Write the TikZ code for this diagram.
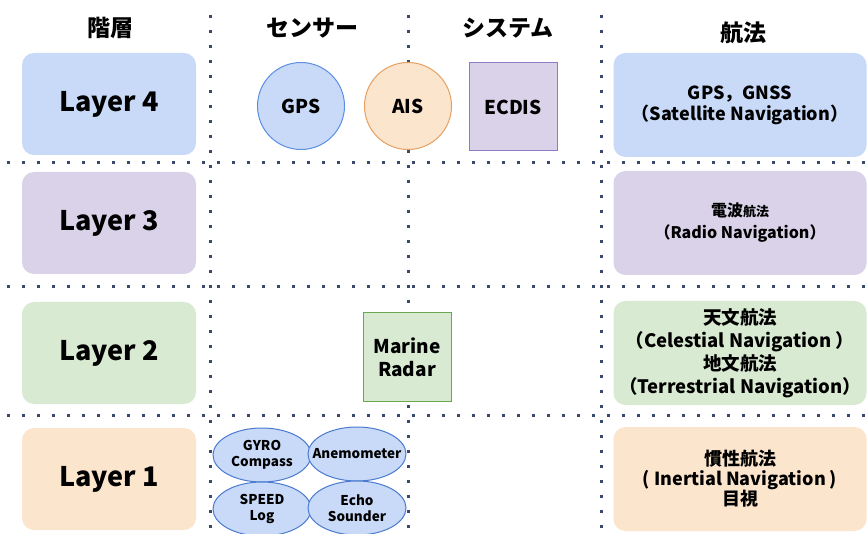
\documentclass[tikz,border=0pt]{standalone}
\usepackage{fontspec}
\setmainfont{Noto Sans CJK JP}
\usepackage{tikz}
\usetikzlibrary{shapes.geometric}
\definecolor{lay4}{HTML}{C9DAF8}
\definecolor{lay3}{HTML}{D9D2E9}
\definecolor{lay2}{HTML}{D9EAD3}
\definecolor{lay1}{HTML}{FCE5CD}
\definecolor{gridc}{HTML}{3A4A6E}
\definecolor{gpsc}{HTML}{5B8FE3}
\definecolor{aisc}{HTML}{E5A062}
\definecolor{ecdc}{HTML}{8E7CC3}
\definecolor{radc}{HTML}{6AA84F}
\definecolor{elc}{HTML}{4A7BD0}

\begin{document}
\begin{tikzpicture}[x=1pt,y=-1pt,
  gridline/.style={draw=gridc,line width=3pt,dash pattern=on 3pt off 12pt},
  laybox/.style={rounded corners=12pt,minimum width=174pt,minimum height=102pt,font=\bfseries\fontsize{27}{30}\selectfont},
  navbox/.style={rounded corners=12pt,minimum width=253pt,minimum height=104pt,align=center,font=\bfseries\fontsize{18}{21}\selectfont},
  head/.style={font=\bfseries\fontsize{23}{26}\selectfont},
  sensor/.style={circle,minimum size=87pt,inner sep=0pt,line width=1pt,font=\bfseries\fontsize{19}{22}\selectfont},
  sysbox/.style={minimum width=88pt,minimum height=88pt,inner sep=0pt,line width=1pt,align=center,font=\bfseries\fontsize{19}{23}\selectfont},
  minisensor/.style={ellipse,minimum width=98pt,minimum height=54pt,inner xsep=-16pt,inner ysep=0pt,fill=lay4,draw=elc,line width=1pt,align=center,font=\bfseries\fontsize{13.5}{16}\selectfont}]
  \useasboundingbox (0,0) rectangle (867,534);
  \fill[white] (0,0) rectangle (867,534);
  % dotted grid
  \draw[gridline] (210,15) -- (210,534);
  \draw[gridline] (408,15) -- (408,534);
  \draw[gridline] (601,15) -- (601,534);
  \draw[gridline] (7,163) -- (867,163);
  \draw[gridline] (7,287) -- (867,287);
  \draw[gridline] (7,415) -- (867,415);
  % headers
  \node[head] (hlay) at (110,28) {階層};
  \node[head] (hsen) at (312,28) {センサー};
  \node[head] (hsys) at (508,28) {システム};
  \node[head] (hnav) at (743,33) {航法};
  % layers
  \node[laybox,fill=lay4] (lay4) at (109,104) {Layer 4};
  \node[laybox,fill=lay3] (lay3) at (109,223) {Layer 3};
  \node[laybox,fill=lay2] (lay2) at (109,353) {Layer 2};
  \node[laybox,fill=lay1] (lay1) at (109,479) {Layer 1};
  % navigation
  \node[navbox,fill=lay4] (nav4) at (740,105) {GPS，GNSS\\（Satellite Navigation）};
  \node[navbox,fill=lay3,font=\bfseries\fontsize{16}{22}\selectfont] (nav3) at (740,223) {電波{\fontsize{13}{22}\selectfont 航法}\\（Radio Navigation）};
  \node[navbox,fill=lay2,font=\bfseries\fontsize{18.5}{23}\selectfont] (nav2) at (740,353) {天文航法\\（Celestial Navigation ）\\地文航法\\（Terrestrial Navigation）};
  \node[navbox,fill=lay1,font=\bfseries\fontsize{18}{20}\selectfont] (nav1) at (740,479) {慣性航法\\( Inertial Navigation )\\目視};
  % sensors and systems
  \node[sensor,fill=lay4,draw=gpsc] (gps) at (301,106) {GPS};
  \node[sensor,fill=lay1,draw=aisc] (ais) at (408,106) {AIS};
  \node[sysbox,fill=lay3,draw=ecdc] (ecdis) at (513,107) {ECDIS};
  \node[sysbox,fill=lay2,draw=radc] (radar) at (407,357) {Marine\\Radar};
  \node[minisensor] (gyro) at (262,455) {GYRO\\Compass};
  \node[minisensor] (anemo) at (357,454) {Anemometer};
  \node[minisensor] (speed) at (262,509) {SPEED\\Log};
  \node[minisensor] (echo) at (357,508) {Echo\\Sounder};
\end{tikzpicture}
\end{document}
